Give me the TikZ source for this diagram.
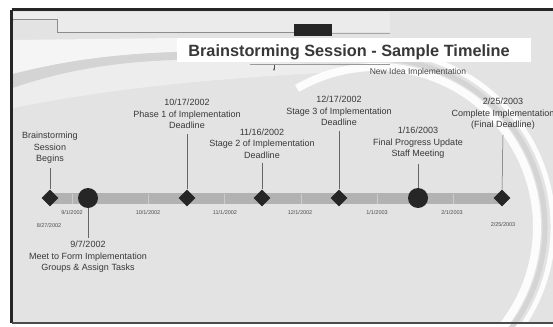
\documentclass[tikz,border=0pt]{standalone}
\usepackage{fontspec}
\setmainfont{Liberation Sans}
\usetikzlibrary{shapes.geometric,arrows.meta}
\tikzset{
  lbl/.style={font=\fontsize{9}{11.6}\selectfont, align=center, text=black!78, inner sep=0pt},
  ticklbl/.style={font=\fontsize{5.5}{6}\selectfont, text=black!70, inner sep=0pt},
  dia/.style={diamond, fill=black!85, minimum size=17pt, inner sep=0pt},
  dot/.style={circle, fill=black!85, minimum size=20pt, inner sep=0pt},
  conn/.style={draw=black!60, line width=0.5pt},
  sep/.style={draw=black!20, line width=0.9pt},
}
\begin{document}
\begin{tikzpicture}[x=1pt,y=-1pt]
\useasboundingbox (0,0) rectangle (553,326);
\begin{scope}
\clip (0,0) rectangle (553,326);
\fill[white] (0,0) rectangle (553,326);
% background inside frame
\fill[black!11] (11,10) rectangle (560,323);
\fill[black!7] (13,12) rectangle (57,19);
\fill[black!8] (57,12) rectangle (390,32);
% left top swoosh
\fill[white!96!black] (13,40) -- (178,38) -- (178,52) .. controls (110,54) and (60,62) .. (13,74) -- cycle;
\fill[black!17] (13,74) .. controls (60,62) and (110,54) .. (178,52) -- (178,60) .. controls (110,62) and (60,72) .. (13,88) -- cycle;
\fill[white!93!black] (13,88) .. controls (60,72) and (110,62) .. (178,60) .. controls (260,60) and (330,64) .. (380,70)
  .. controls (300,74) and (150,80) .. (13,108) -- cycle;
% right arcs
\draw[white, line width=8pt, opacity=0.9] (377,227) ++(-120:160) arc[start angle=-120, end angle=70, radius=160];
\draw[black!17, line width=5pt] (377,227) ++(-95:168) arc[start angle=-95, end angle=70, radius=168];
\draw[white, line width=5pt, opacity=0.9] (377,227) ++(-80:176) arc[start angle=-80, end angle=70, radius=176];
% top tab line
\draw[black!45, line width=0.6pt] (13,19) -- (57,19) -- (57,32) -- (294,32);
\draw[black!35, line width=0.6pt] (332,33) -- (390,33);
\node[fill=black!85, minimum width=38pt, minimum height=12pt, inner sep=0pt] (tab) at (313,30) {};
% frame
\draw[black!85, line width=3pt] (11.5,10) -- (11.5,323) (11.5,10) -- (560,10);
\draw[black!70, line width=1.5pt] (11.5,323) -- (560,323);
% title
\node[fill=white, minimum width=354pt, minimum height=24pt, inner sep=0pt] (titlebar) at (354,50) {};
\node[anchor=base, font=\fontsize{16.3}{18}\selectfont\bfseries, text=black!78, inner sep=0pt] (title) at (349,56.5) {Brainstorming Session - Sample Timeline};
\draw[black!40, line width=0.4pt] (250,64) -- (390,64);
\coordinate (arrtop) at (274,65);
\coordinate (arrbot) at (274,71);
\draw[black!70, line width=0.6pt, -{Stealth[length=2.5pt]}] (arrtop) -- (arrbot);
\node[font=\fontsize{8.5}{10}\selectfont, text=black!70, inner sep=0pt] (newidea) at (418,72) {New Idea Implementation};
% bar
\fill[black!30] (50,193) rectangle (502,204);
\foreach \x in {72,148,224,301,377,453} \draw[sep] (\x,193.5) -- (\x,203.5);
% markers
\node[dia] (d0) at (50,198) {};
\node[dot] (c1) at (88,198) {};
\node[dia] (d1) at (187,198) {};
\node[dia] (d2) at (262,198) {};
\node[dia] (d3) at (339,198) {};
\node[dot] (c2) at (418,198) {};
\node[dia] (d4) at (502,198) {};
% labels
\node[lbl] (l0) at (50,148) {Brainstorming\\Session\\Begins};
\node[lbl] (l1) at (187,114) {10/17/2002\\Phase 1 of Implementation\\Deadline};
\node[lbl] (l2) at (262,143.5) {11/16/2002\\Stage 2 of Implementation\\Deadline};
\node[lbl] (l3) at (339,111) {12/17/2002\\Stage 3 of Implementation\\Deadline};
\node[lbl] (l4) at (418,143) {1/16/2003\\Final Progress Update\\Staff Meeting};
\node[lbl] (l5) at (503,114) {2/25/2003\\Complete Implementation\\(Final Deadline)};
\node[lbl] (b1) at (88,257) {9/7/2002\\Meet to Form Implementation\\Groups \& Assign Tasks};
% connectors
\draw[conn] ([yshift=-4pt]l0.south) -- (d0.north);
\draw[conn] ([yshift=-5pt]l1.south) -- (d1.north);
\draw[conn] ([yshift=-4pt]l2.south) -- (d2.north);
\draw[conn] ([yshift=-5pt]l3.south) -- (d3.north);
\draw[conn] ([yshift=-5pt]l4.south) -- (c2.north);
\draw[conn] ([yshift=-5pt]l5.south) -- (d4.north);
\draw[conn] (c1.south) -- ([yshift=3pt]b1.north);
% tick labels
\node[ticklbl] (t0) at (72,213) {9/1/2002};
\node[ticklbl] (t1) at (148,213) {10/1/2002};
\node[ticklbl] (t2) at (225,213) {11/1/2002};
\node[ticklbl] (t3) at (300,213) {12/1/2002};
\node[ticklbl] (t4) at (377,213) {1/1/2003};
\node[ticklbl] (t5) at (452,213) {2/1/2003};
\node[ticklbl] (ts) at (49,226) {8/27/2002};
\node[ticklbl] (te) at (503,225) {2/25/2003};
\end{scope}
\end{tikzpicture}
\end{document}
